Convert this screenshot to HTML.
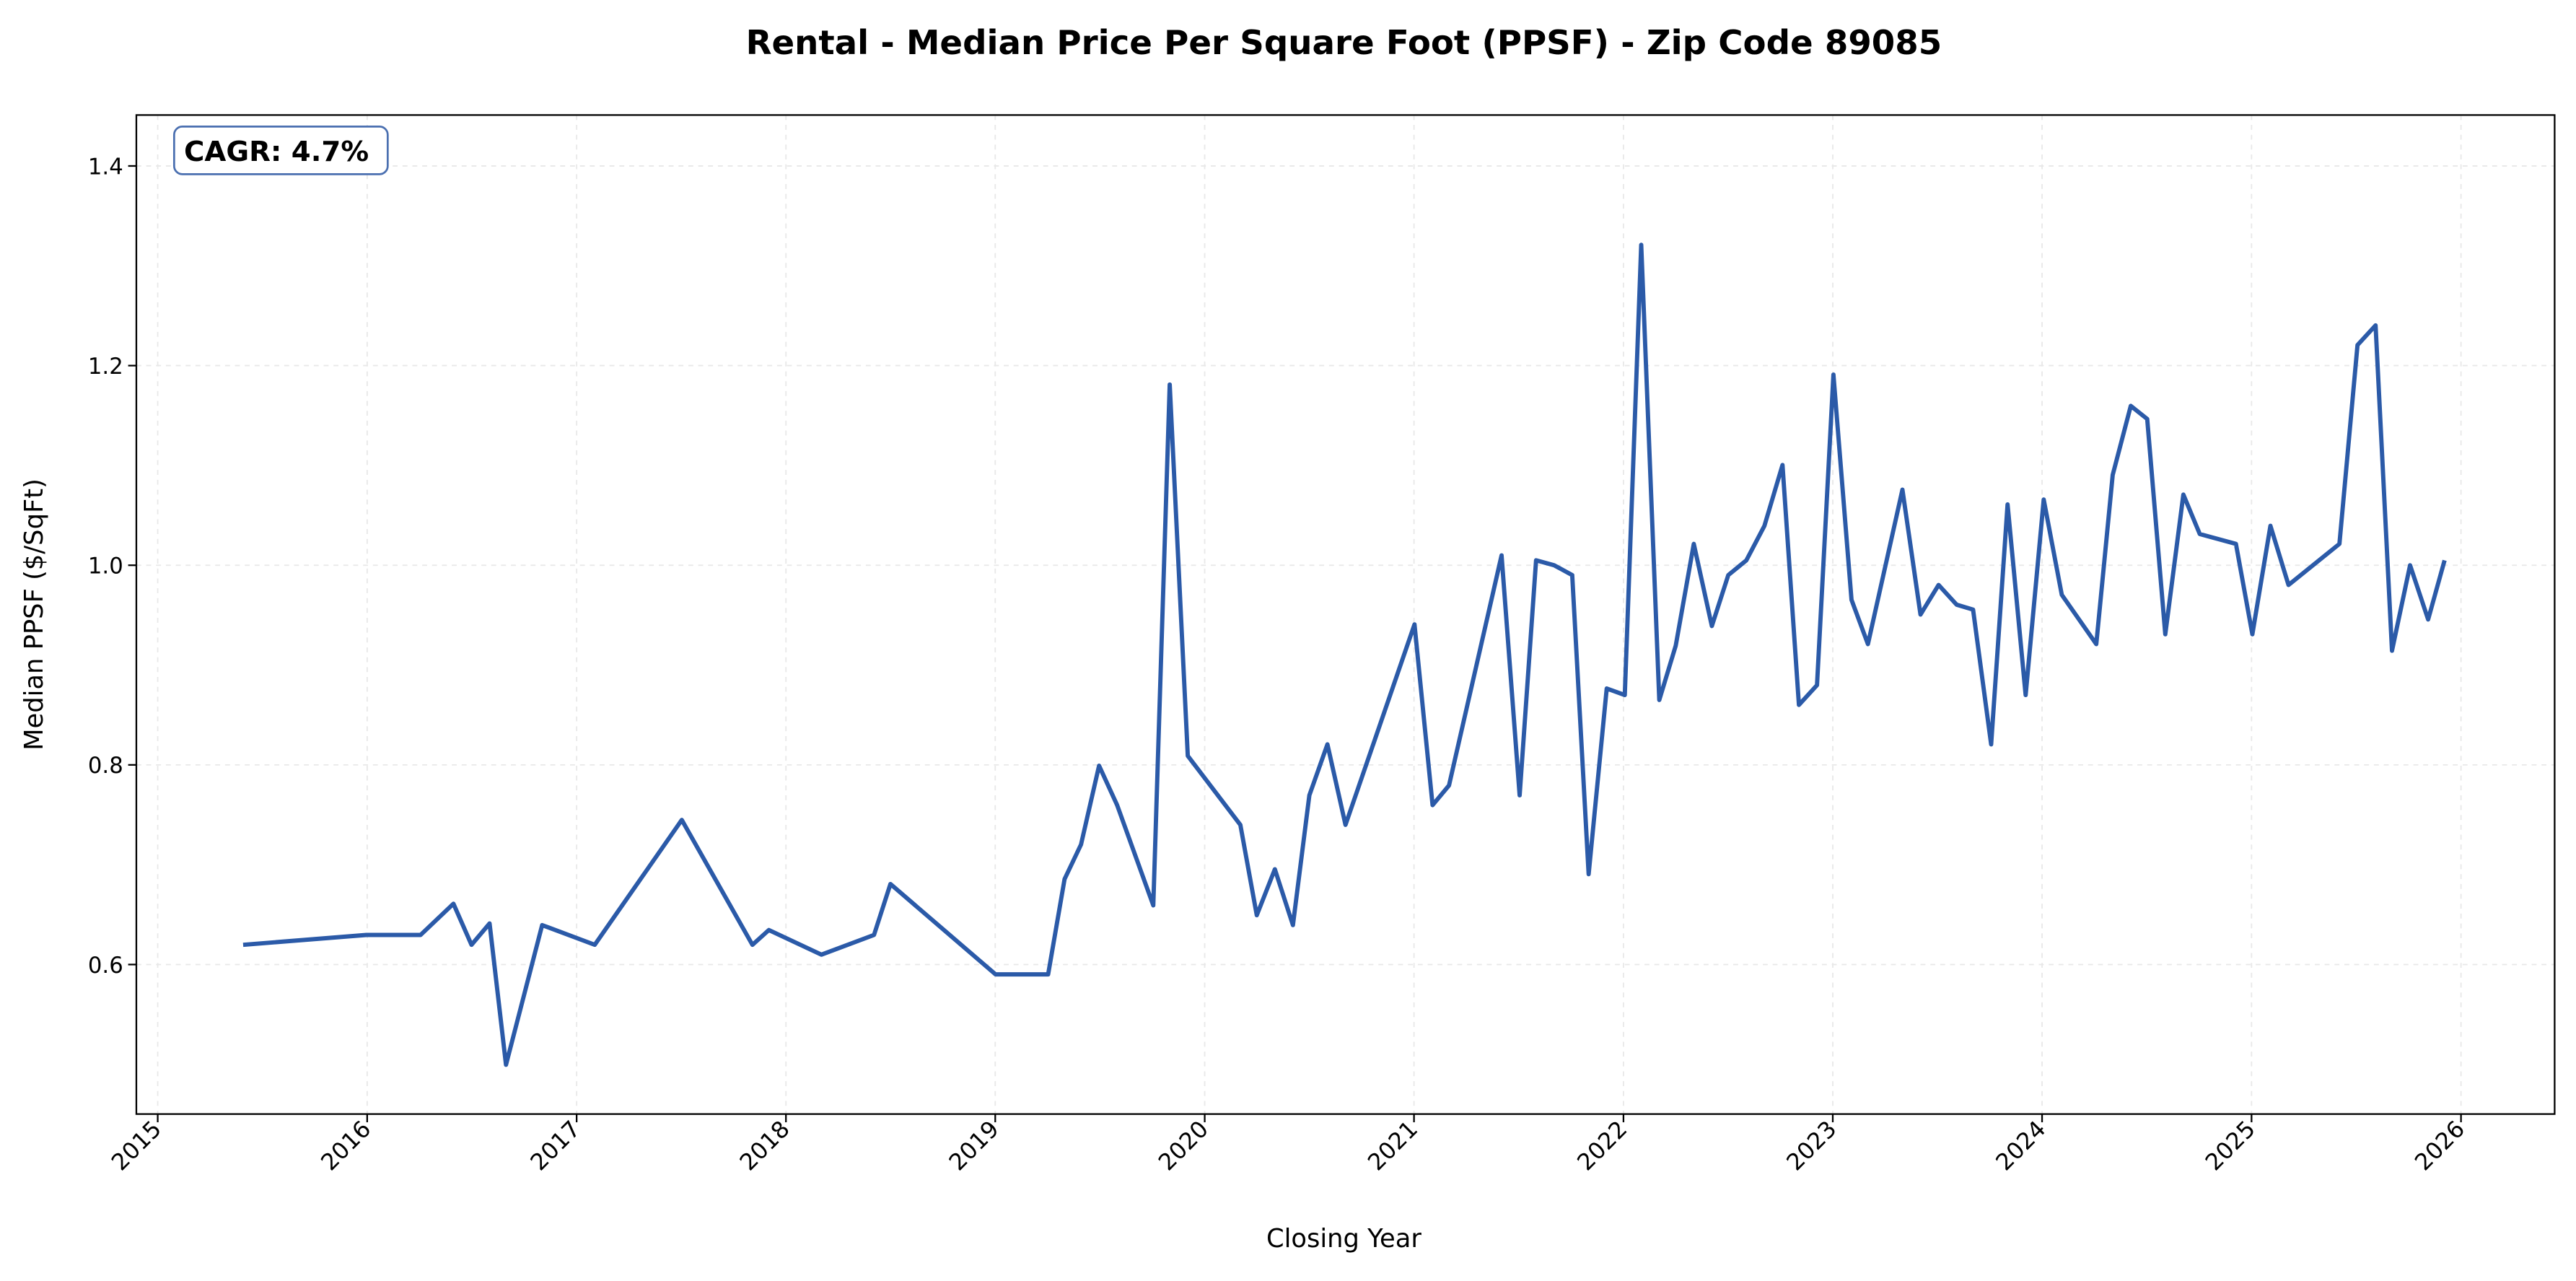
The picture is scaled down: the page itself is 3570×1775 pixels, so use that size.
<!DOCTYPE html>
<html><head><meta charset="utf-8"><style>html,body{margin:0;padding:0;background:#fff}</style></head>
<body>
<svg width="3570" height="1770" viewBox="0 0 1568 777.4" xmlns="http://www.w3.org/2000/svg" font-family="'DejaVu Sans','Liberation Sans',sans-serif">
<rect width="1568" height="777.4" fill="#fff"/>
<text x="818" y="33" text-anchor="middle" font-size="20.5" font-weight="bold">Rental - Median Price Per Square Foot (PPSF) - Zip Code 89085</text>
<g stroke="#e8e8e8" stroke-width="0.8" stroke-dasharray="3,3">
<line x1="96" y1="70" x2="96" y2="678"/><line x1="223.5" y1="70" x2="223.5" y2="678"/><line x1="351" y1="70" x2="351" y2="678"/><line x1="478.4" y1="70" x2="478.4" y2="678"/><line x1="605.8" y1="70" x2="605.8" y2="678"/><line x1="733.3" y1="70" x2="733.3" y2="678"/><line x1="860.7" y1="70" x2="860.7" y2="678"/><line x1="988.2" y1="70" x2="988.2" y2="678"/><line x1="1115.6" y1="70" x2="1115.6" y2="678"/><line x1="1243" y1="70" x2="1243" y2="678"/><line x1="1370.5" y1="70" x2="1370.5" y2="678"/><line x1="1498" y1="70" x2="1498" y2="678"/>
<line x1="83" y1="101" x2="1555" y2="101"/><line x1="83" y1="222.5" x2="1555" y2="222.5"/><line x1="83" y1="344" x2="1555" y2="344"/><line x1="83" y1="465.5" x2="1555" y2="465.5"/><line x1="83" y1="587" x2="1555" y2="587"/>
</g>
<rect x="83" y="70" width="1472" height="608" fill="none" stroke="#000" stroke-width="1"/>
<g stroke="#000" stroke-width="1">
<line x1="96" y1="678" x2="96" y2="683"/><line x1="223.5" y1="678" x2="223.5" y2="683"/><line x1="351" y1="678" x2="351" y2="683"/><line x1="478.4" y1="678" x2="478.4" y2="683"/><line x1="605.8" y1="678" x2="605.8" y2="683"/><line x1="733.3" y1="678" x2="733.3" y2="683"/><line x1="860.7" y1="678" x2="860.7" y2="683"/><line x1="988.2" y1="678" x2="988.2" y2="683"/><line x1="1115.6" y1="678" x2="1115.6" y2="683"/><line x1="1243" y1="678" x2="1243" y2="683"/><line x1="1370.5" y1="678" x2="1370.5" y2="683"/><line x1="1498" y1="678" x2="1498" y2="683"/>
<line x1="78" y1="101" x2="83" y2="101"/><line x1="78" y1="222.5" x2="83" y2="222.5"/><line x1="78" y1="344" x2="83" y2="344"/><line x1="78" y1="465.5" x2="83" y2="465.5"/><line x1="78" y1="587" x2="83" y2="587"/>
</g>
<g font-size="13.5" text-anchor="end">
<text x="75" y="106">1.4</text><text x="75" y="227.5">1.2</text><text x="75" y="349">1.0</text><text x="75" y="470.5">0.8</text><text x="75" y="592">0.6</text>
</g>
<g font-size="14" text-anchor="end">
<text transform="translate(99,688) rotate(-45)">2015</text><text transform="translate(226.5,688) rotate(-45)">2016</text><text transform="translate(354,688) rotate(-45)">2017</text><text transform="translate(481.4,688) rotate(-45)">2018</text><text transform="translate(608.8,688) rotate(-45)">2019</text><text transform="translate(736.3,688) rotate(-45)">2020</text><text transform="translate(863.7,688) rotate(-45)">2021</text><text transform="translate(991.2,688) rotate(-45)">2022</text><text transform="translate(1118.6,688) rotate(-45)">2023</text><text transform="translate(1246,688) rotate(-45)">2024</text><text transform="translate(1373.5,688) rotate(-45)">2025</text><text transform="translate(1501,688) rotate(-45)">2026</text>
</g>
<text x="818" y="759" text-anchor="middle" font-size="15.5">Closing Year</text>
<text transform="translate(26,374) rotate(-90)" text-anchor="middle" font-size="15.5">Median PPSF ($/SqFt)</text>
<polyline fill="none" stroke="#2b5aa8" stroke-width="2.6" stroke-linejoin="round" points="148,575 223,569 256,569 276,550 287,575 298,562 308,648 330,563 362,575 415,499 458,575 468,566 500,581 532,569 542,538 606,593 638,593 648,535 658,514 669,466 680,490 702,551 712,234 723,460 755,502 765,557 776,529 787,563 797,484 808,453 819,502 861,380 872,490 882,478 914,338 925,484 935,341 946,344 957,350 967,532 978,419 989,423 999,149 1010,426 1020,393 1031,331 1042,381 1052,350 1063,341 1074,320 1085,283 1095,429 1106,417 1116,228 1127,365 1137,392 1158,298 1169,374 1180,356 1191,368 1201,371 1212,453 1222,307 1233,423 1244,304 1255,362 1276,392 1286,289 1297,247 1307,255 1318,386 1329,301 1339,325 1361,331 1371,386 1382,320 1393,356 1424,331 1435,210 1446,198 1456,396 1467,344 1478,377 1488,341"/>
<rect x="106" y="77" width="130" height="29" rx="5" fill="#fff" stroke="#4a6fb0" stroke-width="1.2"/>
<text x="112" y="98" font-size="17" font-weight="bold">CAGR: 4.7%</text>
</svg>
</body></html>
